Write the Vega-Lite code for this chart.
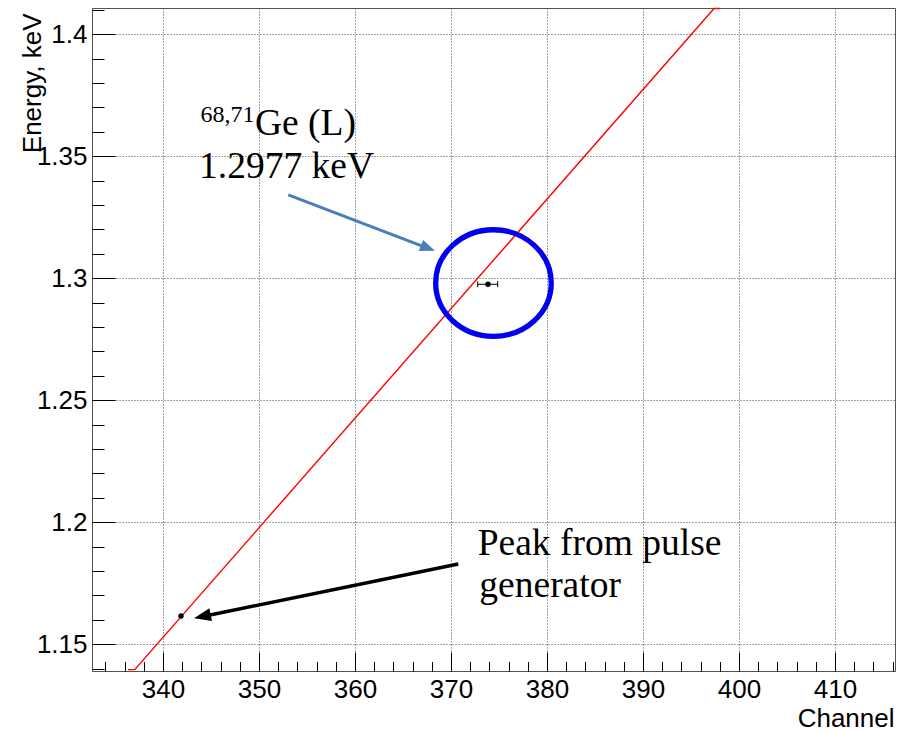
{
  "$schema": "https://vega.github.io/schema/vega-lite/v6.json",
  "width": 803,
  "height": 663,
  "autosize": {"type": "none"},
  "padding": {"left": 92, "top": 8, "right": 7, "bottom": 60},
  "background": "white",
  "config": {
    "view": {"stroke": "#555", "strokeWidth": 1},
    "axis": {"labelFont": "Liberation Sans", "titleFont": "Liberation Sans", "labelColor": "black", "titleColor": "black", "tickColor": "black", "domainColor": "#555"}
  },
  "datasets": {
    "fit": [
      {"channel": 336.35, "energy": 1.1396},
      {"channel": 337.05, "energy": 1.1396},
      {"channel": 397.4, "energy": 1.4105},
      {"channel": 398.02, "energy": 1.4105}
    ],
    "peaks": [
      {"channel": 341.87, "energy": 1.1616},
      {"channel": 373.85, "energy": 1.2975}
    ],
    "errs": [
      {"channel": 373.85, "energy": 1.2975, "lo": 372.78, "hi": 374.86}
    ],
    "ring": [{"channel": 374.42, "energy": 1.298}],
    "bluearrow": [{"x": 353.05, "y": 1.3341, "x2": 367.55, "y2": 1.3123, "tx": 368.33, "ty": 1.3112}],
    "blackarrow": [{"x": 370.76, "y": 1.1829, "x2": 344.14, "y2": 1.1614, "tx": 343.23, "ty": 1.1607}],
    "sup": [{"label": "68,71", "x": 343.9, "y": 1.364}],
    "notes": [
      {"label": "Ge (L)", "x": 349.58, "y": 1.3587},
      {"label": "1.2977 keV", "x": 343.75, "y": 1.3411},
      {"label": "Peak from pulse", "x": 372.78, "y": 1.1866},
      {"label": "generator", "x": 372.95, "y": 1.1695}
    ]
  },
  "resolve": {"axis": {"x": "independent", "y": "independent"}},
  "layer": [
    {
      "data": {"name": "fit"},
      "mark": {"type": "line", "color": "#ff0000", "strokeWidth": 1.4},
      "encoding": {
        "x": {"field": "channel", "type": "quantitative",
          "scale": {"domain": [332.6, 416.25], "nice": false, "zero": false},
          "axis": {"orient": "bottom", "values": [340, 350, 360, 370, 380, 390, 400, 410], "format": "d", "ticks": false, "domain": false,
            "labelFontSize": 26, "labelBaseline": "alphabetic", "labelPadding": 26, "labelFlush": false,
            "grid": true, "gridDash": [1, 2], "gridColor": "#444", "gridWidth": 1,
            "title": "Channel", "titleFontSize": 26, "titleFontWeight": "normal", "titleAlign": "right", "titleBaseline": "alphabetic", "titleX": 802, "titleY": 55, "titleAnchor": "end"}},
        "y": {"field": "energy", "type": "quantitative",
          "scale": {"domain": [1.13904, 1.4107], "nice": false, "zero": false},
          "axis": {"orient": "left", "values": [1.15, 1.2, 1.25, 1.3, 1.35, 1.4], "format": ".2~f", "ticks": false, "domain": false,
            "labelFontSize": 26, "labelPadding": 5, "labelFlush": false,
            "grid": true, "gridDash": [1, 2], "gridColor": "#444", "gridWidth": 1,
            "title": "Energy, keV", "titleFontSize": 26, "titleFontWeight": "normal", "titleAngle": 270, "titleAlign": "right", "titleBaseline": "alphabetic", "titleX": -51.5, "titleY": 5, "titleAnchor": "end"}}
      }
    },
    {
      "data": {"name": "peaks"},
      "mark": {"type": "point", "filled": true, "color": "black", "size": 30, "opacity": 1},
      "encoding": {
        "x": {"field": "channel", "type": "quantitative",
          "scale": {"domain": [332.6, 416.25], "nice": false, "zero": false},
          "axis": {"orient": "bottom", "values": [340, 350, 360, 370, 380, 390, 400, 410], "tickSize": -19, "tickWidth": 1, "labels": false, "domain": true, "grid": false, "title": null}},
        "y": {"field": "energy", "type": "quantitative",
          "scale": {"domain": [1.13904, 1.4107], "nice": false, "zero": false},
          "axis": {"orient": "left", "values": [1.15, 1.2, 1.25, 1.3, 1.35, 1.4], "tickSize": -23, "tickWidth": 1, "labels": false, "domain": true, "grid": false, "title": null}}
      }
    },
    {
      "data": {"name": "ring"},
      "mark": {"type": "point", "filled": false, "stroke": "#0000ee", "strokeWidth": 5.3, "opacity": 1, "size": 12321,
        "shape": "M-1.041,0A1.041,0.96,0,1,0,1.041,0A1.041,0.96,0,1,0,-1.041,0Z"},
      "encoding": {
        "x": {"field": "channel", "type": "quantitative",
          "scale": {"domain": [332.6, 416.25], "nice": false, "zero": false},
          "axis": {"orient": "bottom", "values": [334, 336, 338, 340, 342, 344, 346, 348, 350, 352, 354, 356, 358, 360, 362, 364, 366, 368, 370, 372, 374, 376, 378, 380, 382, 384, 386, 388, 390, 392, 394, 396, 398, 400, 402, 404, 406, 408, 410, 412, 414, 416], "tickSize": -9.5, "tickWidth": 1, "labels": false, "domain": false, "grid": false, "title": null}},
        "y": {"field": "energy", "type": "quantitative",
          "scale": {"domain": [1.13904, 1.4107], "nice": false, "zero": false},
          "axis": {"orient": "left", "values": [1.14, 1.15, 1.16, 1.17, 1.18, 1.19, 1.2, 1.21, 1.22, 1.23, 1.24, 1.25, 1.26, 1.27, 1.28, 1.29, 1.3, 1.31, 1.32, 1.33, 1.34, 1.35, 1.36, 1.37, 1.38, 1.39, 1.4, 1.41], "tickSize": -12, "tickWidth": 1, "labels": false, "domain": false, "grid": false, "title": null}}
      }
    },
    {
      "data": {"name": "errs"},
      "mark": {"type": "rule", "color": "black", "strokeWidth": 1},
      "encoding": {
        "x": {"field": "lo", "type": "quantitative", "scale": {"domain": [332.6, 416.25], "nice": false, "zero": false}, "axis": null},
        "x2": {"field": "hi"},
        "y": {"field": "energy", "type": "quantitative", "scale": {"domain": [1.13904, 1.4107], "nice": false, "zero": false}, "axis": null}
      }
    },
    {
      "data": {"name": "errs"},
      "mark": {"type": "tick", "orient": "vertical", "color": "black", "size": 6, "thickness": 1, "opacity": 1},
      "encoding": {
        "x": {"field": "lo", "type": "quantitative", "scale": {"domain": [332.6, 416.25], "nice": false, "zero": false}, "axis": null},
        "y": {"field": "energy", "type": "quantitative", "scale": {"domain": [1.13904, 1.4107], "nice": false, "zero": false}, "axis": null}
      }
    },
    {
      "data": {"name": "errs"},
      "mark": {"type": "tick", "orient": "vertical", "color": "black", "size": 6, "thickness": 1, "opacity": 1},
      "encoding": {
        "x": {"field": "hi", "type": "quantitative", "scale": {"domain": [332.6, 416.25], "nice": false, "zero": false}, "axis": null},
        "y": {"field": "energy", "type": "quantitative", "scale": {"domain": [1.13904, 1.4107], "nice": false, "zero": false}, "axis": null}
      }
    },
    {
      "data": {"name": "bluearrow"},
      "mark": {"type": "rule", "color": "#4a7ebb", "strokeWidth": 3},
      "encoding": {
        "x": {"field": "x", "type": "quantitative", "scale": {"domain": [332.6, 416.25], "nice": false, "zero": false}, "axis": null},
        "y": {"field": "y", "type": "quantitative", "scale": {"domain": [1.13904, 1.4107], "nice": false, "zero": false}, "axis": null},
        "x2": {"field": "x2"},
        "y2": {"field": "y2"}
      }
    },
    {
      "data": {"name": "bluearrow"},
      "mark": {"type": "point", "filled": true, "color": "#4a7ebb", "opacity": 1, "size": 225, "angle": 110.85,
        "shape": "M0,0L-0.8,2L0.8,2Z"},
      "encoding": {
        "x": {"field": "tx", "type": "quantitative", "scale": {"domain": [332.6, 416.25], "nice": false, "zero": false}, "axis": null},
        "y": {"field": "ty", "type": "quantitative", "scale": {"domain": [1.13904, 1.4107], "nice": false, "zero": false}, "axis": null}
      }
    },
    {
      "data": {"name": "blackarrow"},
      "mark": {"type": "rule", "color": "black", "strokeWidth": 3.5},
      "encoding": {
        "x": {"field": "x", "type": "quantitative", "scale": {"domain": [332.6, 416.25], "nice": false, "zero": false}, "axis": null},
        "y": {"field": "y", "type": "quantitative", "scale": {"domain": [1.13904, 1.4107], "nice": false, "zero": false}, "axis": null},
        "x2": {"field": "x2"},
        "y2": {"field": "y2"}
      }
    },
    {
      "data": {"name": "blackarrow"},
      "mark": {"type": "point", "filled": true, "color": "black", "opacity": 1, "size": 289, "angle": 258.4,
        "shape": "M0,0L-0.765,2L0.765,2Z"},
      "encoding": {
        "x": {"field": "tx", "type": "quantitative", "scale": {"domain": [332.6, 416.25], "nice": false, "zero": false}, "axis": null},
        "y": {"field": "ty", "type": "quantitative", "scale": {"domain": [1.13904, 1.4107], "nice": false, "zero": false}, "axis": null}
      }
    },
    {
      "data": {"name": "sup"},
      "mark": {"type": "text", "font": "Liberation Serif", "fontSize": 24, "align": "left", "baseline": "alphabetic", "color": "black"},
      "encoding": {
        "x": {"field": "x", "type": "quantitative", "scale": {"domain": [332.6, 416.25], "nice": false, "zero": false}, "axis": null},
        "y": {"field": "y", "type": "quantitative", "scale": {"domain": [1.13904, 1.4107], "nice": false, "zero": false}, "axis": null},
        "text": {"field": "label"}
      }
    },
    {
      "data": {"name": "notes"},
      "mark": {"type": "text", "font": "Liberation Serif", "fontSize": 37.5, "align": "left", "baseline": "alphabetic", "color": "black"},
      "encoding": {
        "x": {"field": "x", "type": "quantitative", "scale": {"domain": [332.6, 416.25], "nice": false, "zero": false}, "axis": null},
        "y": {"field": "y", "type": "quantitative", "scale": {"domain": [1.13904, 1.4107], "nice": false, "zero": false}, "axis": null},
        "text": {"field": "label"}
      }
    }
  ]
}
